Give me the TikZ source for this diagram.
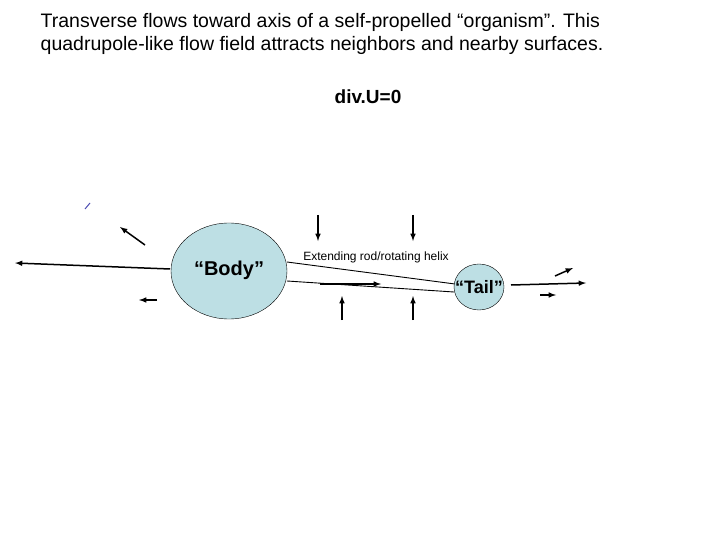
\documentclass[tikz,border=0pt]{standalone}
\usepackage{fontspec}
\setmainfont{Liberation Sans}
\begin{document}
\begin{tikzpicture}[x=1pt,y=-1pt,
 arr/.style={-latex,line width=1.5pt}]
\useasboundingbox (0,0) rectangle (720,540);
\node[font=\fontsize{19.5}{23}\selectfont,align=left] (t) at (322,34) {Transverse flows toward axis of a self-propelled “organism”. This\\quadrupole-like flow field attracts neighbors and nearby surfaces.};
\node[font=\bfseries\fontsize{19}{22}\selectfont] (d) at (368,97) {div.U=0};
\draw[fill={rgb,255:red,189;green,223;blue,228}] (229,271) ellipse [x radius=58,y radius=48];
\node (body) at (229,271) {};
\node[font=\bfseries\fontsize{20}{24}\selectfont] (bl) at (229,270) {“Body”};
\draw[line width=0.9pt] (287,262) -- (455,284);
\draw[line width=0.9pt] (287,281) -- (454,292);
\draw[fill={rgb,255:red,189;green,223;blue,228}] (479,287) ellipse [x radius=25,y radius=23];
\node[font=\bfseries\fontsize{18}{21}\selectfont] (tl) at (479,287) {“Tail”};
\node[font=\fontsize{12}{14}\selectfont] (rl) at (376,257) {Extending rod/rotating helix};
\coordinate (a1) at (320,284); \coordinate (b1) at (381,284);
\draw[arr] (a1) -- (b1);
\coordinate (a2) at (318,215); \coordinate (b2) at (318,241); \draw[arr] (a2) -- (b2);
\coordinate (a3) at (413,215); \coordinate (b3) at (413,241); \draw[arr] (a3) -- (b3);
\coordinate (a4) at (342,320); \coordinate (b4) at (342,296); \draw[arr] (a4) -- (b4);
\coordinate (a5) at (413,320); \coordinate (b5) at (413,296); \draw[arr] (a5) -- (b5);
\coordinate (a6) at (170,269); \coordinate (b6) at (15,263); \draw[arr] (a6) -- (b6);
\coordinate (a7) at (145,245); \coordinate (b7) at (120,227); \draw[arr] (a7) -- (b7);
\coordinate (a8) at (157,300); \coordinate (b8) at (139,300); \draw[arr] (a8) -- (b8);
\coordinate (a9) at (511,285); \coordinate (b9) at (586,283); \draw[arr] (a9) -- (b9);
\coordinate (a10) at (540,295); \coordinate (b10) at (556,295); \draw[arr] (a10) -- (b10);
\coordinate (a11) at (555,276); \coordinate (b11) at (573,268); \draw[arr] (a11) -- (b11);
\draw[line width=1pt,blue!40!gray] (85,209) -- (90,203);
\end{tikzpicture}
\end{document}
